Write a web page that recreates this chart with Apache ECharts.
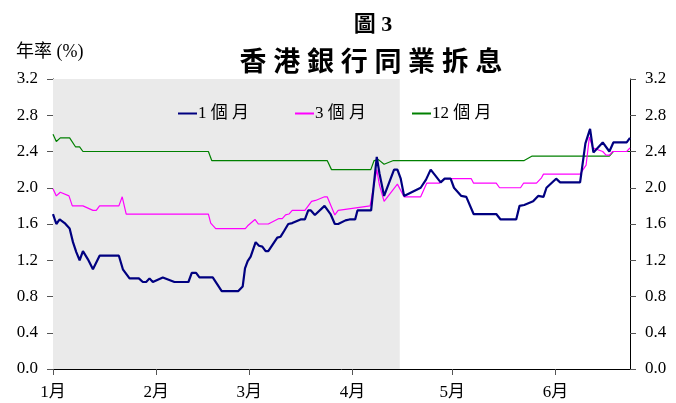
<!DOCTYPE html>
<html>
<head>
<meta charset="utf-8">
<script src="https://cdn.jsdelivr.net/npm/echarts@6/dist/echarts.min.js"></script>
<style>
  html, body { margin: 0; padding: 0; background: #fff; }
  #chart { width: 676px; height: 403px; }
</style>
</head>
<body>
<div id="chart"></div>
<script>
// x = days since 1 Jan, y = annual rate (%)
const monthStarts = [0, 31, 59, 90, 120, 151];
const monthLabels = ['1月', '2月', '3月', '4月', '5月', '6月'];
const shadeEnd = 104.2;   // grey period ends mid-April

const m1Days = [0, 1, 2, 3.5, 5, 6, 7, 8, 9, 10.5, 12, 14, 19.8, 21, 23, 25.8, 27, 28, 29, 30, 33, 36.5, 40.7, 41.7, 43, 44, 48, 50.7, 55.7, 57, 57.7, 58.5, 59.4, 60.9, 61.9, 62.9, 63.9, 64.7, 67.4, 68.4, 69.4, 70.7, 71.9, 74.4, 75.7, 76.7, 77.5, 78.7, 81.6, 83.4, 84.7, 85.7, 87.9, 89.1, 90.8, 91.5, 95.6, 97.3, 98.1, 99.5, 102.5, 103.5, 104.5, 105.5, 110.5, 112.1, 113.5, 116.5, 117.7, 119.5, 120.5, 122.7, 124.2, 126.4, 133.2, 134.5, 139.2, 140.2, 141.6, 144.3, 145.8, 147.4, 148.3, 151.2, 152.4, 158.4, 160, 161.4, 162.4, 165.2, 167.2, 168.4, 172.4, 173.4];
const m1Rates = [1.71, 1.60, 1.65, 1.61, 1.55, 1.40, 1.29, 1.20, 1.30, 1.21, 1.10, 1.25, 1.25, 1.10, 1.00, 1.00, 0.96, 0.96, 1.00, 0.96, 1.01, 0.96, 0.96, 1.06, 1.06, 1.01, 1.01, 0.86, 0.86, 0.91, 1.11, 1.19, 1.24, 1.40, 1.36, 1.35, 1.30, 1.30, 1.45, 1.46, 1.52, 1.60, 1.61, 1.65, 1.65, 1.75, 1.75, 1.70, 1.80, 1.71, 1.60, 1.60, 1.64, 1.65, 1.65, 1.75, 1.75, 2.34, 2.16, 1.91, 2.20, 2.20, 2.10, 1.91, 2.00, 2.09, 2.20, 2.06, 2.10, 2.10, 2.00, 1.91, 1.90, 1.71, 1.71, 1.65, 1.65, 1.80, 1.81, 1.85, 1.91, 1.90, 2.00, 2.10, 2.06, 2.06, 2.49, 2.65, 2.39, 2.50, 2.40, 2.50, 2.50, 2.55];

const m3Days = [0, 1, 2.2, 4.8, 5.8, 9, 12, 13, 14, 19.8, 20.8, 22, 46.7, 47.4, 48.9, 57.8, 58.5, 60.7, 61.7, 64.7, 67.9, 68.9, 69.9, 70.9, 71.9, 75.7, 77.7, 78.9, 81.6, 82.4, 84.7, 85.7, 95.3, 97.3, 98.1, 99.5, 103.5, 105.5, 110.5, 112.3, 116.1, 117.7, 125.7, 126.4, 133.2, 134.2, 140.5, 141.4, 145.3, 146.8, 147.4, 158.4, 160.2, 161.2, 162.2, 165.2, 166.2, 167.2, 168.2, 172.4, 173.4];
const m3Rates = [1.99, 1.91, 1.95, 1.91, 1.80, 1.80, 1.75, 1.75, 1.80, 1.80, 1.90, 1.71, 1.71, 1.61, 1.55, 1.55, 1.58, 1.65, 1.60, 1.60, 1.66, 1.66, 1.70, 1.71, 1.75, 1.75, 1.85, 1.86, 1.90, 1.90, 1.70, 1.75, 1.80, 2.20, 2.03, 1.85, 2.04, 1.90, 1.90, 2.05, 2.05, 2.10, 2.10, 2.05, 2.05, 2.00, 2.00, 2.05, 2.05, 2.11, 2.15, 2.15, 2.25, 2.56, 2.44, 2.40, 2.36, 2.36, 2.40, 2.40, 2.44];

const m12Days = [0, 1, 2.2, 5, 6.8, 8, 9, 46.7, 47.7, 82.4, 83.7, 95.5, 96.5, 97.8, 99.5, 102.3, 141.6, 144, 167.2, 168.4, 173.4];
const m12Rates = [2.59, 2.51, 2.55, 2.55, 2.45, 2.45, 2.40, 2.40, 2.30, 2.30, 2.20, 2.20, 2.30, 2.31, 2.26, 2.30, 2.30, 2.35, 2.35, 2.40, 2.40];

function pairs(xs, ys) {
  return xs.map((x, i) => [x, ys[i]]);
}

const FONT = "'Liberation Serif', 'Noto Sans CJK TC', serif";

const chart = echarts.init(document.getElementById('chart'));

const yAxisBase = {
  type: 'value',
  min: 0,
  max: 3.2,
  interval: 0.4,
  splitLine: { show: false },
  axisLine: { show: true, lineStyle: { color: '#000', width: 1 } },
  axisTick: { show: true, length: 6, lineStyle: { color: '#555' } },
  axisLabel: {
    color: '#000',
    fontFamily: FONT,
    fontSize: 17,
    margin: 15,
    formatter: (v) => v.toFixed(1)
  }
};

chart.setOption({
  animation: false,
  title: [
    {
      text: '圖 3',
      left: 368, top: 9, textAlign: 'center',
      textStyle: { fontFamily: FONT, fontSize: 22, fontWeight: 'bold', color: '#000' }
    },
    {
      text: '香 港 銀 行 同 業 拆 息',
      left: 366, top: 46, textAlign: 'center',
      textStyle: { fontFamily: FONT, fontSize: 27, fontWeight: 'bold', color: '#000' }
    },
    {
      text: '年率 (%)',
      left: 11, top: 38,
      textStyle: { fontFamily: FONT, fontSize: 18, fontWeight: 'normal', color: '#000' }
    }
  ],
  legend: {
    left: 173,
    top: 100,
    icon: 'rect',
    itemWidth: 19,
    itemHeight: 2,
    itemGap: 46,
    data: ['1 個 月', '3 個 月', '12 個 月'],
    textStyle: { fontFamily: FONT, fontSize: 17, color: '#000', padding: [0, 0, 0, -4] }
  },
  grid: { left: 53, right: 46, top: 79, bottom: 34 },
  xAxis: {
    type: 'value',
    min: 0,
    max: 173.4,
    splitLine: { show: false },
    axisLine: { lineStyle: { color: '#000', width: 1 } },
    axisTick: { show: true, length: 6, customValues: monthStarts, lineStyle: { color: '#555' } },
    axisLabel: {
      customValues: monthStarts,
      color: '#000',
      fontFamily: FONT,
      fontSize: 17,
      margin: 15,
      formatter: (v) => monthLabels[monthStarts.indexOf(v)] || ''
    }
  },
  yAxis: [
    Object.assign({}, yAxisBase, { position: 'left' }),
    Object.assign({}, yAxisBase, { position: 'right' })
  ],
  series: [
    {
      type: 'line',
      data: [],
      z: 0,
      silent: true,
      markArea: {
        silent: true,
        itemStyle: { color: '#eaeaea' },
        data: [[{ xAxis: 0 }, { xAxis: shadeEnd }]]
      }
    },
    {
      name: '12 個 月',
      type: 'line',
      data: pairs(m12Days, m12Rates),
      showSymbol: false,
      z: 3,
      color: '#008000',
      lineStyle: { width: 1.2, color: '#008000' }
    },
    {
      name: '3 個 月',
      type: 'line',
      data: pairs(m3Days, m3Rates),
      showSymbol: false,
      z: 4,
      color: '#ff00ff',
      lineStyle: { width: 1.2, color: '#ff00ff' }
    },
    {
      name: '1 個 月',
      type: 'line',
      data: pairs(m1Days, m1Rates),
      showSymbol: false,
      z: 5,
      color: '#000080',
      lineStyle: { width: 2.2, color: '#000080' }
    }
  ]
});
</script>
</body>
</html>
